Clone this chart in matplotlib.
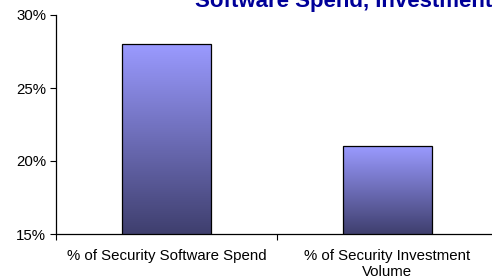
import matplotlib.pyplot as plt
import numpy as np
from matplotlib.colors import LinearSegmentedColormap
from matplotlib.ticker import FixedLocator, NullFormatter

plt.rcParams['font.family'] = ['Liberation Sans', 'DejaVu Sans']

# data
categories = ['% of Security Software Spend', '% of Security Investment\nVolume']
values = [28, 21]
yticks = [15, 20, 25, 30]
title = 'Software Spend, Investment'

fig = plt.figure(figsize=(4.92, 2.79), dpi=100)
ax = fig.add_axes([56 / 492, 1 - 234 / 279, 442 / 492, 219 / 279])

x = np.arange(len(categories))
bars = ax.bar(x, values, width=0.4, bottom=0, color='none', edgecolor='black', linewidth=0.9, zorder=3)

# gradient fill in each bar
cmap = LinearSegmentedColormap.from_list('barfill', ['#3f3f6e', '#9a9aff'])
grad = np.linspace(0, 1, 256).reshape(-1, 1)
for b in bars:
    x0, w, h = b.get_x(), b.get_width(), b.get_height()
    im = ax.imshow(grad, cmap=cmap, origin='lower', aspect='auto',
                   extent=[x0, x0 + w, 15, h], zorder=2)
    im.set_clip_path(b)

ax.set_xlim(-0.5, 1.5)
ax.set_ylim(15, 30)
ax.set_yticks(yticks)
ax.set_yticklabels([f'{v}%' for v in yticks], fontsize=10.8)

ax.xaxis.set_major_locator(FixedLocator([-0.5, 0.5, 1.5]))
ax.xaxis.set_major_formatter(NullFormatter())
ax.xaxis.set_minor_locator(FixedLocator(x))
ax.set_xticklabels(categories, minor=True, fontsize=10.8, linespacing=1.15)
ax.tick_params(axis='x', which='minor', length=0, pad=11)
ax.tick_params(axis='x', which='major', length=4, direction='out')
ax.tick_params(axis='y', length=4, direction='out', pad=3)

for s in ['top', 'right']:
    ax.spines[s].set_visible(False)
ax.spines['left'].set_linewidth(0.9)
ax.spines['bottom'].set_linewidth(0.9)

fig.text(195 / 492, 1 - 7 / 279, title, fontsize=16, fontweight='bold',
         color='#000099', ha='left', va='baseline')

fig.savefig('out.png', dpi=100)
